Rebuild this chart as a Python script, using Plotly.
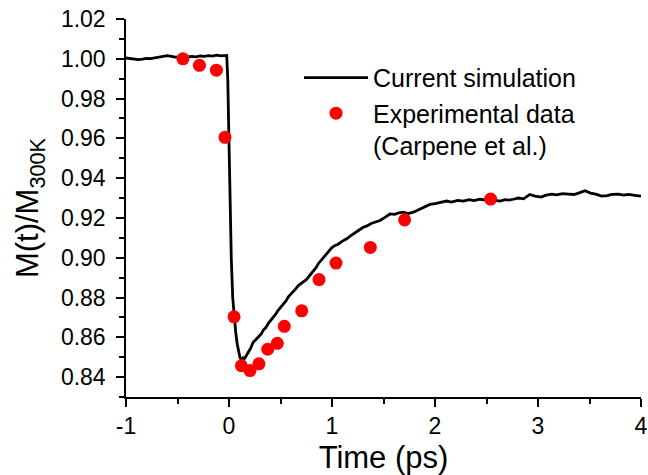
import plotly.graph_objects as go

# Simulation curve
sim_t = [-1.00, -0.96, -0.92, -0.88, -0.84, -0.80, -0.76, -0.72, -0.68, -0.64,
         -0.60, -0.56, -0.52, -0.48, -0.44, -0.40, -0.36, -0.32, -0.28, -0.24,
         -0.20, -0.16, -0.12, -0.08, -0.04, -0.022, -0.012, -0.003, 0.005, 0.013,
         0.022, 0.036, 0.049, 0.065, 0.080, 0.095, 0.107, 0.120, 0.135, 0.150,
         0.165, 0.187, 0.21, 0.235, 0.26, 0.284, 0.31, 0.335, 0.36, 0.382,
         0.405, 0.43, 0.455, 0.479, 0.505, 0.53, 0.555, 0.576, 0.60, 0.625,
         0.65, 0.673, 0.70, 0.725, 0.75, 0.770, 0.795, 0.82, 0.845, 0.867,
         0.89, 0.915, 0.94, 0.965, 0.997, 1.03, 1.06, 1.09, 1.12, 1.142,
         1.18, 1.22, 1.26, 1.304, 1.34, 1.38, 1.42, 1.466, 1.51, 1.563,
         1.61, 1.65, 1.693, 1.74, 1.79, 1.84, 1.89, 1.951, 2.00, 2.05,
         2.113, 2.16, 2.22, 2.275, 2.33, 2.38, 2.437, 2.49, 2.54, 2.59,
         2.631, 2.68, 2.72, 2.76, 2.81, 2.86, 2.92, 2.971, 3.03, 3.08,
         3.133, 3.18, 3.24, 3.294, 3.35, 3.40, 3.456, 3.51, 3.56, 3.618,
         3.67, 3.72, 3.78, 3.83, 3.88, 3.94, 4.00]
sim_m = [1.0004, 1.0002, 0.9999, 0.9996, 0.9998, 1.0002, 1.0001, 1.0005, 1.0009, 1.0013,
         1.0016, 1.0012, 1.0008, 1.0010, 1.0006, 1.0009, 1.0012, 1.0010, 1.0014, 1.0012,
         1.0016, 1.0013, 1.0018, 1.0015, 1.0019, 1.0017, 0.9900, 0.9600, 0.9400, 0.9200,
         0.9000, 0.8800, 0.8703, 0.8625, 0.8565, 0.8525, 0.8498, 0.8488, 0.8497, 0.8492,
         0.8505, 0.8520, 0.8545, 0.8575, 0.8590, 0.8603, 0.8615, 0.8638, 0.8650, 0.8670,
         0.8684, 0.8700, 0.8718, 0.8737, 0.8752, 0.8770, 0.8784, 0.8803, 0.8815, 0.8832,
         0.8845, 0.8860, 0.8870, 0.8882, 0.8890, 0.8902, 0.8918, 0.8935, 0.8950, 0.8970,
         0.8985, 0.9000, 0.9018, 0.9030, 0.9050, 0.9062, 0.9068, 0.9080, 0.9088, 0.9095,
         0.9110, 0.9122, 0.9138, 0.9153, 0.9160, 0.9172, 0.9178, 0.9187, 0.9202, 0.9220,
         0.9218, 0.9226, 0.9229, 0.9222, 0.9229, 0.9240, 0.9252, 0.9268, 0.9272, 0.9277,
         0.9285, 0.9280, 0.9288, 0.9285, 0.9292, 0.9287, 0.9294, 0.9290, 0.9295, 0.9288,
         0.9285, 0.9292, 0.9290, 0.9294, 0.9300, 0.9296, 0.9318, 0.9310, 0.9305, 0.9315,
         0.9320, 0.9316, 0.9322, 0.9320, 0.9318, 0.9326, 0.9337, 0.9325, 0.9320, 0.9310,
         0.9312, 0.9318, 0.9320, 0.9315, 0.9318, 0.9314, 0.9310]

# Experimental data (Carpene et al.)
exp_t = [-0.447, -0.287, -0.122, -0.039, 0.049, 0.120, 0.204, 0.291, 0.376,
         0.469, 0.537, 0.706, 0.874, 1.039, 1.372, 1.705, 2.540]
exp_m = [1.000, 0.9967, 0.9943, 0.9605, 0.8703, 0.8457, 0.8433, 0.8467, 0.854,
         0.857, 0.8655, 0.8733, 0.889, 0.8973, 0.9052, 0.919, 0.9295]

x_ticks = [-1, 0, 1, 2, 3, 4]
x_ticklabels = ["-1", "0", "1", "2", "3", "4"]
y_ticks = [0.84, 0.86, 0.88, 0.90, 0.92, 0.94, 0.96, 0.98, 1.00, 1.02]
y_ticklabels = ["0.84", "0.86", "0.88", "0.90", "0.92", "0.94", "0.96", "0.98", "1.00", "1.02"]

FONT = "Liberation Sans, Arial, sans-serif"

fig = go.Figure()
fig.add_trace(go.Scatter(x=sim_t, y=sim_m, mode="lines", name="Current simulation",
                         line=dict(color="black", width=2.8)))
fig.add_trace(go.Scatter(x=exp_t, y=exp_m, mode="markers",
                         name="Experimental data<br>(Carpene et al.)",
                         marker=dict(color="#ff0000", size=13, line=dict(width=0))))

fig.update_layout(
    width=648, height=475,
    margin=dict(l=126, r=7, t=19, b=78),
    plot_bgcolor="white", paper_bgcolor="white",
    font=dict(family=FONT, color="black", size=23),
    showlegend=True,
    legend=dict(x=0.336, y=0.905, xanchor="left", yanchor="top",
                bgcolor="rgba(0,0,0,0)", font=dict(size=25, family=FONT),
                valign="top", itemwidth=64, tracegroupgap=0),
)
fig.update_xaxes(
    range=[-1, 4], tickvals=x_ticks, ticktext=x_ticklabels,
    showline=True, linecolor="black", linewidth=1.5, mirror=False,
    ticks="outside", ticklen=8, tickwidth=1.5, tickcolor="black",
    minor=dict(ticks="outside", ticklen=5, tickwidth=1.5, tickcolor="black", dtick=0.5, tick0=0, showgrid=False),
    showgrid=False, zeroline=False, automargin=False,
    tickfont=dict(size=23, family=FONT),
    title=dict(text="Time (ps)", font=dict(size=31, family=FONT), standoff=8),
)
fig.update_yaxes(
    range=[0.83, 1.02], tickvals=y_ticks, ticktext=y_ticklabels,
    showline=True, linecolor="black", linewidth=1.5, mirror=False,
    ticks="outside", ticklen=8, tickwidth=1.5, tickcolor="black",
    minor=dict(ticks="outside", ticklen=5, tickwidth=1.5, tickcolor="black", dtick=0.01, tick0=0.83, showgrid=False),
    showgrid=False, zeroline=False, automargin=False,
    tickfont=dict(size=23, family=FONT),
    ticklabelstandoff=6,
    title=dict(text="M(t)/M<sub>300K</sub>", font=dict(size=31, family=FONT), standoff=13),
)

fig.write_html("out.html", config={"displayModeBar": False},
               post_script="document.body.style.margin='0';")
